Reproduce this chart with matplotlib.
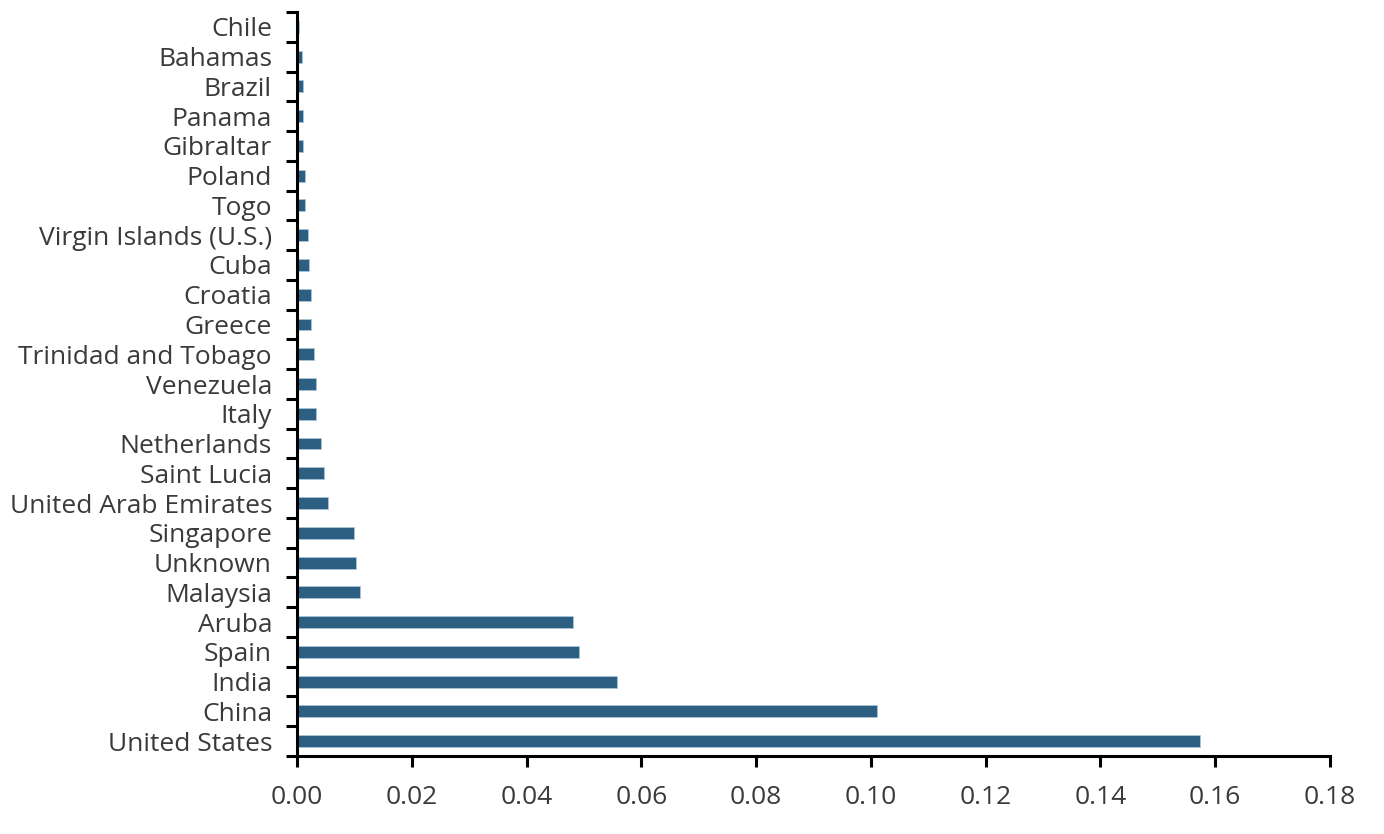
import numpy as np
import matplotlib
matplotlib.use("Agg")
import matplotlib.pyplot as plt

# top of chart to bottom
countries = ["Chile", "Bahamas", "Brazil", "Panama", "Gibraltar", "Poland", "Togo",
             "Virgin Islands (U.S.)", "Cuba", "Croatia", "Greece", "Trinidad and Tobago",
             "Venezuela", "Italy", "Netherlands", "Saint Lucia", "United Arab Emirates",
             "Singapore", "Unknown", "Malaysia", "Aruba", "Spain", "India", "China",
             "United States"]
values = [0.0004, 0.0009, 0.0011, 0.0011, 0.0011, 0.0014, 0.0014,
          0.0019, 0.0021, 0.0025, 0.0025, 0.0030,
          0.0033, 0.0033, 0.0041, 0.0047, 0.0054,
          0.0099, 0.0103, 0.0110, 0.0481, 0.0491, 0.0558, 0.1010,
          0.1573]
xticks = [0.00, 0.02, 0.04, 0.06, 0.08, 0.10, 0.12, 0.14, 0.16, 0.18]

plt.rcParams['font.family'] = ['Open Sans', 'DejaVu Sans']
fig = plt.figure(figsize=(13.84, 8.34), dpi=100)
ax = fig.add_axes([297 / 1384, 1 - 756 / 834, (1330 - 297) / 1384, (756 - 12) / 834])

n = len(countries)
pos = np.arange(n)[::-1]  # United States at bottom
ax.barh(pos, values, height=0.4, color='#2d5f82', edgecolor='#a9c6d8', linewidth=0.6)

ax.set_ylim(-0.5, n - 0.5)
ax.set_xlim(0, 0.18)
ax.set_yticks(pos)
ax.set_yticklabels(countries)
ax.set_yticks(np.arange(-0.5, n, 1), minor=True)
ax.tick_params(axis='y', which='major', length=0, pad=18, labelsize=19, labelcolor='#3a3a3a')
ax.tick_params(axis='y', which='minor', length=8, width=2.2, direction='out')
ax.set_xticks(xticks)
ax.set_xticklabels(["%.2f" % t for t in xticks])
ax.tick_params(axis='x', length=8, width=2.2, direction='out', pad=13,
               labelsize=19, labelcolor='#3a3a3a')

for s in ['top', 'right']:
    ax.spines[s].set_visible(False)
for s in ['left', 'bottom']:
    ax.spines[s].set_linewidth(2.2)
    ax.spines[s].set_color('black')

fig.savefig('out.png', dpi=100)
